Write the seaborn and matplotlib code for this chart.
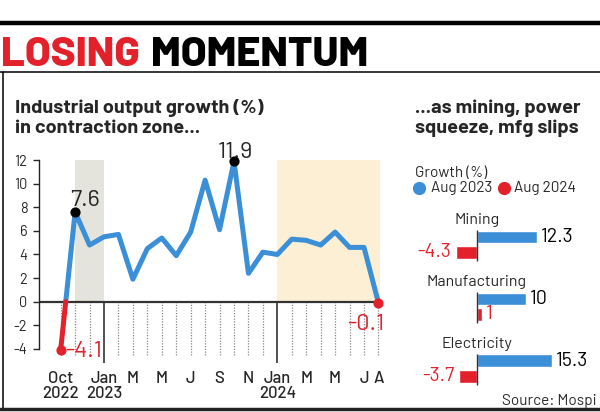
import numpy as np
import pandas as pd
import matplotlib
matplotlib.use("Agg")
import matplotlib.pyplot as plt
import seaborn as sns

# -----------------------------
# Data
# -----------------------------
months = [
    "Oct 2022", "Nov 2022", "Dec 2022", "Jan 2023", "Feb 2023", "Mar 2023",
    "Apr 2023", "May 2023", "Jun 2023", "Jul 2023", "Aug 2023", "Sep 2023",
    "Oct 2023", "Nov 2023", "Dec 2023", "Jan 2024", "Feb 2024", "Mar 2024",
    "Apr 2024", "May 2024", "Jun 2024", "Jul 2024", "Aug 2024",
]
growth = [
    -4.1, 7.6, 4.8, 5.5, 5.7, 1.9, 4.5, 5.4, 3.9, 5.9, 10.3, 6.1,
    11.9, 2.4, 4.2, 4.0, 5.3, 5.2, 4.8, 5.9, 4.6, 4.6, -0.1,
]
tick_months = ["Oct 2022", "Jan 2023", "Mar 2023", "May 2023", "Jul 2023",
               "Sep 2023", "Nov 2023", "Jan 2024", "Mar 2024", "May 2024",
               "Jul 2024", "Aug 2024"]
tick_labels = ["Oct\n2022", "Jan\n2023", "M", "M", "J", "S", "N",
               "Jan\n2024", "M", "M", "J", "A"]
year_starts = ["Jan 2023", "Jan 2024"]
grey_span = ("Nov 2022", "Jan 2023")
beige_span = ("Jan 2024", "Aug 2024")
peak_months = ["Nov 2022", "Oct 2023"]
end_months = ["Oct 2022", "Aug 2024"]

sectors = ["Mining", "Manufacturing", "Electricity"]
aug_2023 = [12.3, 10, 15.3]
aug_2024 = [-4.3, 1, -3.7]

BLUE = "#3b8fd6"
RED = "#e3212b"
FONT = ["Barlow", "Barlow Semi Condensed", "DejaVu Sans"]

sns.set_theme(style="white")
plt.rcParams["font.family"] = FONT

fig = plt.figure(figsize=(6, 4.12), dpi=100)


def fy(px):
    # pixel row (from top) -> figure fraction
    return 1 - px / 412


# -----------------------------
# Header and frame
# -----------------------------
fig.add_artist(plt.Line2D([0, 1], [fy(23)] * 2, color="black", lw=3.2))
fig.add_artist(plt.Line2D([0, 1], [fy(71.7)] * 2, color="black", lw=1.1))
fig.add_artist(plt.Line2D([3 / 600] * 2, [fy(71.7), fy(408.5)],
                          color="black", lw=1.1))
fig.add_artist(plt.Line2D([0, 1], [fy(408.5)] * 2, color="#222222", lw=2.5))

t1 = fig.text(1 / 600, fy(65.7), "LOSING", color=RED, fontsize=30,
              fontweight=800, va="baseline")
fig.canvas.draw()
bb = t1.get_window_extent(fig.canvas.get_renderer())
fig.text((bb.x1 + 11) / 600, fy(65.7), "MOMENTUM", color="black",
         fontsize=30, fontweight=800, va="baseline")

fig.text(15 / 600, fy(132.7),
         "Industrial output growth (%)\nin contraction zone...",
         fontsize=14.3, fontweight="bold", va="baseline", linespacing=1.2)
fig.text(415 / 600, fy(132.7),
         "...as mining, power\nsqueeze, mfg slips",
         fontsize=14.3, fontweight="bold", va="baseline", linespacing=1.2)

# -----------------------------
# Line chart
# -----------------------------
ax = fig.add_axes([39 / 600, fy(365.4), 351 / 600, 211.2 / 412])
ax.set_facecolor("none")

pos = {m: i for i, m in enumerate(months)}
x = np.arange(len(growth), dtype=float)
y = np.array(growth, dtype=float)

# split into runs of same sign, cutting at zero crossings
rows = [(x[0], y[0], 0, y[0] < 0)]
seg = 0
for i in range(1, len(y)):
    if (y[i - 1] < 0) != (y[i] < 0):
        xc = x[i - 1] + (0 - y[i - 1]) / (y[i] - y[i - 1])
        rows.append((xc, 0.0, seg, y[i - 1] < 0))
        seg += 1
        rows.append((xc, 0.0, seg, y[i] < 0))
    rows.append((x[i], y[i], seg, y[i] < 0))
line_df = pd.DataFrame(rows, columns=["x", "y", "seg", "neg"])

ymin, ymax = -5.4, 12.5
lo, hi = (0 - ymin) / (ymax - ymin), (12 - ymin) / (ymax - ymin)
ax.axvspan(pos[grey_span[0]], pos[grey_span[1]], ymin=lo, ymax=hi,
           color="#e4e4dc", lw=0, zorder=0)
ax.axvspan(pos[beige_span[0]], pos[beige_span[1]] + 0.1, ymin=lo, ymax=hi,
           color="#fcefd4", lw=0, zorder=0)

for i, m in enumerate(months):
    if m in year_starts:
        ax.vlines(i, -5.2, 0, color="#222222", lw=1.1, zorder=1)
    else:
        ax.vlines(i, -4.5, 0, color="#888888", lw=0.9,
                  linestyles=(0, (1, 1.2)), zorder=1)
ax.plot([-1.5, len(months) - 1], [0, 0], color="#333333", lw=1.6, zorder=2)

sns.lineplot(data=line_df, x="x", y="y", units="seg", estimator=None,
             hue="neg", palette={False: BLUE, True: RED}, sort=False,
             lw=3.6, legend=False, ax=ax, zorder=3)

for m in peak_months:
    ax.scatter(pos[m], growth[pos[m]], s=40, color="black", zorder=5)
for m in end_months:
    ax.scatter(pos[m], growth[pos[m]], s=40, color=RED, zorder=5)

label_style = dict(textcoords="offset points", fontsize=17, fontweight=400)
m = "Nov 2022"
ax.annotate(f"{growth[pos[m]]}", (pos[m], growth[pos[m]]), xytext=(7, 1),
            ha="center", va="bottom", **label_style)
m = "Oct 2023"
ax.annotate(f"{growth[pos[m]]}", (pos[m], growth[pos[m]]), xytext=(1, -1),
            ha="center", va="bottom", **label_style)
m = "Oct 2022"
ax.annotate(f"{growth[pos[m]]}", (pos[m], growth[pos[m]]), xytext=(3, -1),
            ha="left", va="center", color=RED, **label_style)
m = "Aug 2024"
ax.annotate(f"{growth[pos[m]]}", (pos[m], growth[pos[m]]), xytext=(4, -8),
            ha="right", va="top", color=RED, **label_style)

ax.set_xlim(-1.5, 22.8)
ax.set_ylim(ymin, ymax)
ax.set_yticks(range(-4, 13, 2))
ax.set_yticklabels([str(v) for v in range(-4, 13, 2)], fontsize=10.5)
ax.set_xticks([pos[m] for m in tick_months])
ax.set_xticklabels(tick_labels, fontsize=12, fontweight=500, linespacing=1.0)
ax.tick_params(axis="x", length=0, pad=4)
ax.tick_params(axis="y", length=4.3, width=1, pad=4, direction="out", left=True)
ax.set_xlabel("")
ax.set_ylabel("")
sns.despine(ax=ax, bottom=True)
ax.spines["left"].set_bounds(-4, 12)
ax.spines["left"].set_color("#222222")
ax.spines["left"].set_linewidth(1)

# -----------------------------
# Bar chart
# -----------------------------
bar_df = pd.DataFrame({
    "sector": sectors * 2,
    "value": aug_2023 + aug_2024,
    "year": ["Aug 2023"] * 3 + ["Aug 2024"] * 3,
})

bx = fig.add_axes([420 / 600, fy(399.4), 175 / 600, 185.6 / 412])
bx.set_facecolor("none")
sns.barplot(data=bar_df, y="sector", x="value", hue="year", orient="h",
            palette={"Aug 2023": BLUE, "Aug 2024": RED}, width=0.5, gap=0.18,
            saturation=1, legend=False, ax=bx)
bx.set_xlim(-11.57, 24.14)
bx.set_ylim(2.5, -0.5)
bx.axis("off")

for i, name in enumerate(sectors):
    bx.vlines(0, i - 0.24, i + 0.27, color="#333333", lw=1)
    bx.text(0, i - 0.335, name, ha="center", va="baseline", fontsize=11.5)

for cont, color in zip(bx.containers, ["black", RED]):
    labels = [f"{v:g}" for v in cont.datavalues]
    bx.bar_label(cont, labels=labels, padding=3, fontsize=14, color=color)

fig.text(415 / 600, fy(176.7), "Growth (%)", fontsize=11, va="baseline")
fig.text(430.7 / 600, fy(191.7), "Aug 2023", fontsize=11, va="baseline")
fig.text(514 / 600, fy(191.7), "Aug 2024", fontsize=11, va="baseline")
fig.add_artist(plt.Line2D([419 / 600], [fy(188)], marker="o", ms=8.5,
                          color=BLUE, lw=0))
fig.add_artist(plt.Line2D([504 / 600], [fy(188)], marker="o", ms=8.5,
                          color=RED, lw=0))

fig.text(597 / 600, fy(405), "Source: Mospi", fontsize=11,
         ha="right", va="baseline")

fig.savefig("out.png", dpi=100)
